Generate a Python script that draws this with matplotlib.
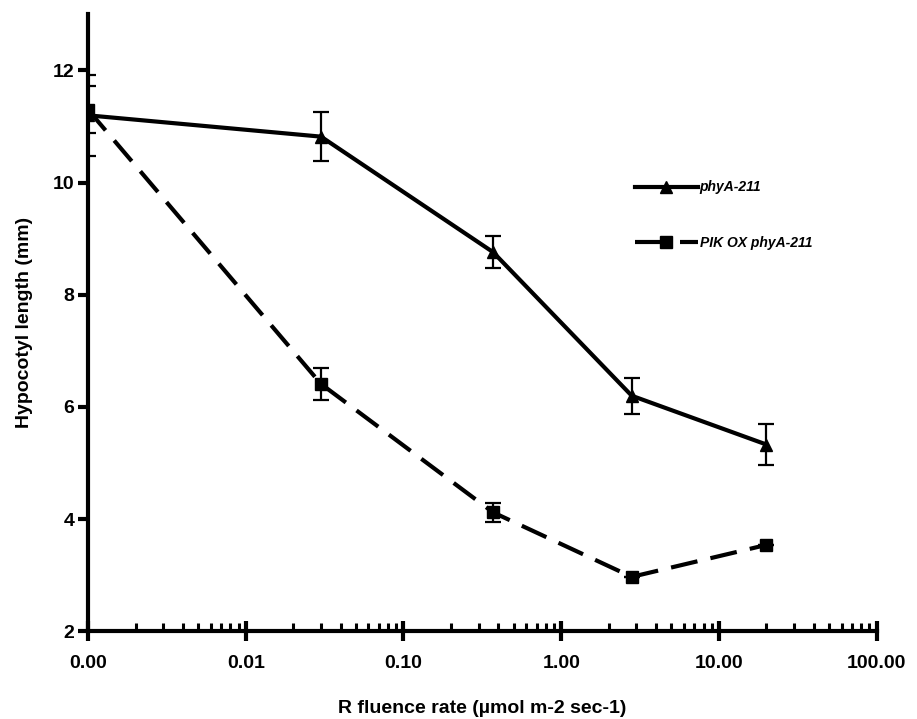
import matplotlib
matplotlib.use("Agg")
import matplotlib.pyplot as plt
from matplotlib.lines import Line2D
from matplotlib.ticker import FixedLocator, LogLocator, NullFormatter, FixedFormatter
from matplotlib.font_manager import fontManager

names = {f.name for f in fontManager.ttflist}
fam = "Liberation Sans Narrow" if "Liberation Sans Narrow" in names else "Liberation Sans"
plt.rcParams['font.family'] = [fam, 'DejaVu Sans']

# Data
fluence = [0.001, 0.03, 0.37, 2.8, 20]
phyA_mean = [11.2, 10.82, 8.76, 6.2, 5.33]
phyA_err = [0.72, 0.44, 0.28, 0.32, 0.37]
pik_mean = [11.3, 6.41, 4.12, 2.97, 3.54]
pik_err = [0.42, 0.29, 0.17, 0.0, 0.0]
series_labels = ["phyA-211", "PIK OX phyA-211"]
xtick_vals = [0.001, 0.01, 0.1, 1, 10, 100]
xtick_labels = ["0.00", "0.01", "0.10", "1.00", "10.00", "100.00"]
yticks = [2, 4, 6, 8, 10, 12]

DASH = (6.5, 3.2)

fig = plt.figure(figsize=(9.17, 7.19), dpi=100)
ax = fig.add_axes([0.096, 0.122, 0.86, 0.858])

ax.errorbar(fluence, phyA_mean, yerr=phyA_err, color='black', lw=3, marker='^',
            markersize=9, elinewidth=1.6, capsize=6, capthick=1.6, zorder=3)
ax.errorbar(fluence, pik_mean, yerr=pik_err, color='black', lw=3, marker='s',
            markersize=8, elinewidth=1.6, capsize=6, capthick=1.6,
            dashes=DASH, zorder=3)

ax.set_xscale('log')
ax.set_xlim(0.001, 100)
ax.set_ylim(2, 13)
ax.xaxis.set_major_locator(FixedLocator(xtick_vals))
ax.xaxis.set_major_formatter(FixedFormatter(xtick_labels))
ax.xaxis.set_minor_locator(LogLocator(base=10, subs=range(2, 10), numticks=20))
ax.xaxis.set_minor_formatter(NullFormatter())
ax.set_yticks(yticks)

for s in ['top', 'right']:
    ax.spines[s].set_visible(False)
for s in ['left', 'bottom']:
    ax.spines[s].set_linewidth(3)

ax.tick_params(axis='x', which='major', direction='inout', length=14, width=3,
               labelsize=14, pad=10)
ax.tick_params(axis='x', which='minor', direction='in', length=6, width=2.2)
ax.tick_params(axis='y', which='major', direction='out', length=7, width=3,
               labelsize=14, pad=3)
for t in ax.get_xticklabels() + ax.get_yticklabels():
    t.set_fontweight('bold')

ax.set_xlabel("R fluence rate (µmol m-2 sec-1)", fontsize=14, fontweight='bold', labelpad=20)
ax.set_ylabel("Hypocotyl length (mm)", fontsize=14, fontweight='bold', labelpad=14)

handles = [
    Line2D([], [], color='black', lw=3, marker='^', markersize=9),
    Line2D([], [], color='black', lw=3, marker='s', markersize=8, dashes=(7.6, 3.2)),
]
leg = ax.legend(handles, series_labels, loc='upper left',
                bbox_to_anchor=(622/917, 1 - 168/719),
                bbox_transform=fig.transFigure, frameon=False, numpoints=1,
                handlelength=4.6, handletextpad=0.1, labelspacing=3.0,
                prop={'size': 10, 'style': 'italic', 'weight': 'bold'})

fig.savefig("out.png", dpi=100)
